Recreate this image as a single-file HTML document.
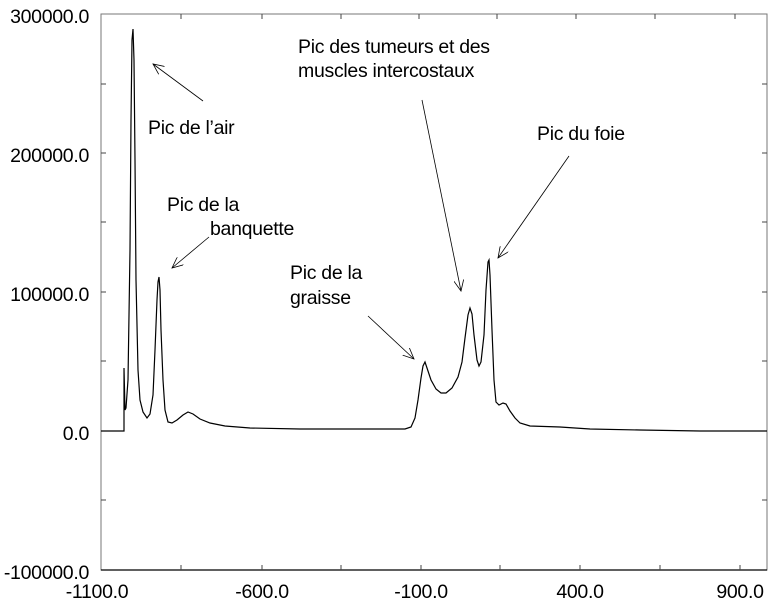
<!DOCTYPE html>
<html><head><meta charset="utf-8"><style>
html,body{margin:0;padding:0;background:#fff;}
svg{display:block;}
text{font-family:"Liberation Sans",sans-serif;fill:#000;}
</style></head><body>
<svg width="779" height="603" viewBox="0 0 779 603" xmlns="http://www.w3.org/2000/svg">
<defs>
<marker id="ah" markerWidth="12" markerHeight="10" refX="11" refY="5" orient="auto" markerUnits="userSpaceOnUse">
<path d="M0,0 L11,5 L0,10" fill="none" stroke="#000" stroke-width="0.8"/>
</marker>
</defs>
<rect x="101" y="14" width="666" height="556" fill="none" stroke="#777" stroke-width="1"/>
<line x1="101" y1="570" x2="767" y2="570" stroke="#000" stroke-width="1.2"/>
<g stroke="#444" stroke-width="1">
<line x1="101" y1="84" x2="106" y2="84"/><line x1="101" y1="153" x2="106" y2="153"/>
<line x1="101" y1="222" x2="106" y2="222"/><line x1="101" y1="292" x2="106" y2="292"/>
<line x1="101" y1="361" x2="106" y2="361"/><line x1="101" y1="500" x2="106" y2="500"/>
<line x1="762" y1="84" x2="767" y2="84"/><line x1="762" y1="153" x2="767" y2="153"/>
<line x1="762" y1="222" x2="767" y2="222"/><line x1="762" y1="292" x2="767" y2="292"/>
<line x1="762" y1="361" x2="767" y2="361"/><line x1="762" y1="500" x2="767" y2="500"/>
<line x1="181" y1="570" x2="181" y2="565"/><line x1="262" y1="570" x2="262" y2="565"/>
<line x1="341" y1="570" x2="341" y2="565"/><line x1="421" y1="570" x2="421" y2="565"/>
<line x1="500" y1="570" x2="500" y2="565"/><line x1="580" y1="570" x2="580" y2="565"/>
<line x1="660" y1="570" x2="660" y2="565"/><line x1="740" y1="570" x2="740" y2="565"/>
<line x1="181" y1="14" x2="181" y2="19"/><line x1="262" y1="14" x2="262" y2="19"/>
<line x1="341" y1="14" x2="341" y2="19"/><line x1="419" y1="14" x2="419" y2="19"/>
<line x1="497" y1="14" x2="497" y2="19"/><line x1="576" y1="14" x2="576" y2="19"/>
<line x1="655" y1="14" x2="655" y2="19"/><line x1="735" y1="14" x2="735" y2="19"/>
</g>
<g font-size="19.5" text-anchor="end" letter-spacing="-0.3">
<text x="89" y="23">300000.0</text>
<text x="89" y="162">200000.0</text>
<text x="89" y="301">100000.0</text>
<text x="89" y="440">0.0</text>
<text x="89" y="579">-100000.0</text>
</g>
<g font-size="19.5" text-anchor="middle" letter-spacing="-0.3">
<text x="97" y="598">-1100.0</text>
<text x="262" y="598">-600.0</text>
<text x="421" y="598">-100.0</text>
<text x="580" y="598">400.0</text>
<text x="740" y="598">900.0</text>
</g>
<path fill="none" stroke="#000" stroke-width="1.2" d="M101,431 L124,431 L124,368 L125,410 L126,408 L128,380 L130,250 L131,120 L132,40 L133,29 L134,60 L135,160 L136,280 L138,370 L140,400 L143,412 L147,418 L150,414 L153,395 L155,350 L157,300 L158,282 L159,277 L160,290 L161,330 L163,380 L165,410 L168,422 L172,423 L177,420 L183,415 L188,412 L193,414 L200,419 L210,423 L225,426 L250,428 L300,429 L380,429 L405,429 L411,427 L415,418 L418,400 L421,378 L423,366 L425,362 L427,368 L431,380 L436,389 L441,393 L446,393 L452,388 L458,377 L462,362 L465,338 L468,315 L470,308 L472,314 L474,335 L477,360 L479,366 L481,362 L484,335 L486,290 L488,262 L489,260 L490,275 L492,330 L494,380 L496,402 L499,405 L503,403 L506,404 L510,411 L515,418 L520,423 L530,426 L560,427 L590,429 L640,430 L700,431 L767,431"/>
<g stroke="#000" stroke-width="0.8" fill="none">
<line x1="203" y1="101" x2="153" y2="64" marker-end="url(#ah)"/>
<line x1="209" y1="237" x2="172" y2="268" marker-end="url(#ah)"/>
<line x1="368" y1="316" x2="414" y2="359" marker-end="url(#ah)"/>
<line x1="422" y1="100" x2="461" y2="291" marker-end="url(#ah)"/>
<line x1="569" y1="156" x2="498" y2="258" marker-end="url(#ah)"/>
</g>
<g font-size="19.5" letter-spacing="-0.3">
<text x="148" y="134">Pic de l’air</text>
<text x="167" y="211">Pic de la</text>
<text x="210" y="235">banquette</text>
<text x="290" y="279">Pic de la</text>
<text x="290" y="304">graisse</text>
<text x="298" y="53">Pic des tumeurs et des</text>
<text x="298" y="77">muscles intercostaux</text>
<text x="537" y="140">Pic du foie</text>
</g>
</svg>
</body></html>
